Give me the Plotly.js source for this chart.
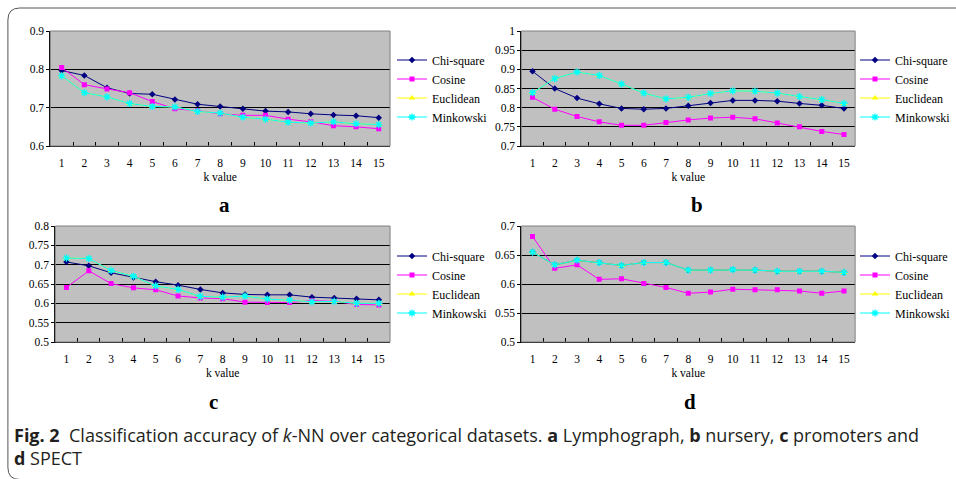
<!DOCTYPE html>
<html>
<head>
<meta charset="utf-8">
<script src="https://cdn.plot.ly/plotly-3.0.1.min.js"></script>
<style>html,body{margin:0;padding:0;background:#fff;}#chart{width:956px;height:479px;}</style>
</head>
<body>
<div id="chart"></div>
<script>
// ---- data ----
const kValues = ['1','2','3','4','5','6','7','8','9','10','11','12','13','14','15'];
const seriesNames = ['Chi-square','Cosine','Euclidean','Minkowski'];

// (a) Lymphograph
const aChi = [0.797,0.784,0.752,0.737,0.735,0.721,0.709,0.703,0.697,0.691,0.689,0.684,0.681,0.679,0.674];
const aCos = [0.805,0.760,0.749,0.739,0.716,0.697,0.692,0.684,0.680,0.680,0.670,0.663,0.653,0.650,0.645];
const aEuc = [0.783,0.739,0.728,0.711,0.703,0.702,0.690,0.686,0.675,0.670,0.662,0.660,0.663,0.658,0.656];
const aMin = [0.783,0.739,0.728,0.711,0.703,0.702,0.690,0.686,0.675,0.670,0.662,0.660,0.663,0.658,0.656];

// (b) nursery
const bChi = [0.895,0.850,0.825,0.810,0.798,0.796,0.798,0.805,0.812,0.819,0.819,0.817,0.811,0.806,0.798];
const bCos = [0.827,0.796,0.777,0.763,0.754,0.754,0.761,0.768,0.773,0.775,0.771,0.760,0.750,0.738,0.730];
const bEuc = [0.839,0.876,0.893,0.884,0.862,0.838,0.823,0.827,0.837,0.844,0.843,0.838,0.829,0.821,0.811];
const bMin = [0.839,0.876,0.893,0.884,0.862,0.838,0.823,0.827,0.837,0.844,0.843,0.838,0.829,0.821,0.811];

// (c) promoters
const cChi = [0.707,0.697,0.679,0.667,0.656,0.647,0.636,0.627,0.623,0.622,0.622,0.616,0.614,0.612,0.609];
const cCos = [0.641,0.684,0.651,0.640,0.635,0.619,0.614,0.612,0.603,0.602,0.602,0.607,0.605,0.597,0.596];
const cEuc = [0.717,0.716,0.685,0.670,0.645,0.636,0.618,0.616,0.619,0.611,0.608,0.604,0.605,0.600,0.600];
const cMin = [0.717,0.716,0.685,0.670,0.645,0.636,0.618,0.616,0.619,0.611,0.608,0.604,0.605,0.600,0.600];

// (d) SPECT
const dChi = [0.655,0.633,0.641,0.637,0.632,0.637,0.637,0.624,0.624,0.625,0.624,0.622,0.622,0.622,0.620];
const dCos = [0.682,0.627,0.633,0.608,0.609,0.601,0.594,0.584,0.586,0.591,0.590,0.590,0.588,0.584,0.588];
const dEuc = [0.655,0.633,0.641,0.637,0.632,0.637,0.637,0.624,0.624,0.625,0.624,0.622,0.622,0.622,0.620];
const dMin = [0.655,0.633,0.641,0.637,0.632,0.637,0.637,0.624,0.624,0.625,0.624,0.622,0.622,0.622,0.620];

const panelLetters = ['a','b','c','d'];
const axisTitle = 'k value';

// ---- styling ----
const W = 956, H = 479;
const serif = '"Liberation Serif", "Times New Roman", Times, serif';
const styles = [
  {color:'#000080', symbol:'diamond', size:5, lineColor:'#000080', lw:0},
  {color:'#ff00ff', symbol:'square', size:5, lineColor:'#ff00ff', lw:0},
  {color:'#ffff00', symbol:'triangle-up', size:6, lineColor:'#ffff00', lw:0},
  {color:'#00ffff', symbol:'asterisk-open', size:6, lineColor:'#00ffff', lw:1.3}
];

const panels = [
  {data:[aChi,aCos,aEuc,aMin], x:[51,395], y:[31,146], range:[0.6,0.9], dtick:0.1, legend:'legend'},
  {data:[bChi,bCos,bEuc,bMin], x:[528,866], y:[31,146], range:[0.7,1.0], dtick:0.05, legend:'legend2'},
  {data:[cChi,cCos,cEuc,cMin], x:[56,395], y:[226,342], range:[0.5,0.8], dtick:0.05, legend:'legend3'},
  {data:[dChi,dCos,dEuc,dMin], x:[528,866], y:[226,342], range:[0.5,0.7], dtick:0.05, legend:'legend4'}
];

const traces = [];
const layout = {
  width: W, height: H,
  margin: {l:0, r:0, t:0, b:0},
  paper_bgcolor: '#ffffff',
  plot_bgcolor: '#c0c0c0',
  font: {family: serif, size: 11.5, color: '#000'},
  shapes: [], annotations: []
};

const legendPos = [
  {x:397, yc:88.5},
  {x:866, yc:88.5},
  {x:397, yc:284.5},
  {x:866, yc:284.5}
];
const letterPos = [[227,205],[706,205],[216,402],[699,402]];

panels.forEach((p, i) => {
  const n = i + 1;
  const xa = n === 1 ? 'x' : 'x' + n;
  const ya = n === 1 ? 'y' : 'y' + n;
  const xk = n === 1 ? 'xaxis' : 'xaxis' + n;
  const yk = n === 1 ? 'yaxis' : 'yaxis' + n;
  p.data.forEach((vals, s) => {
    const st = styles[s];
    traces.push({
      type: 'scatter', mode: 'lines+markers',
      x: kValues, y: vals, name: seriesNames[s],
      xaxis: xa, yaxis: ya, legend: p.legend,
      line: {color: st.lineColor, width: 1},
      marker: {symbol: st.symbol, size: st.size, color: st.color,
               line: {color: st.color, width: st.lw}},
      hoverinfo: 'x+y+name'
    });
  });
  layout[xk] = {
    domain: [p.x[0]/W, p.x[1]/W], anchor: ya,
    type: 'category', range: [-0.5, 14.5],
    tickson: 'boundaries', ticks: 'inside', ticklen: 4, tickcolor: '#000',
    showline: true, linecolor: '#000', linewidth: 1,
    showgrid: false, zeroline: false, fixedrange: true,
    tickfont: {family: serif, size: 11.5, color: '#000'},
    ticklabelstandoff: 6,
    title: {text: axisTitle, font: {family: serif, size: 11.5, color: '#000'}, standoff: 5},
    automargin: false
  };
  layout[yk] = {
    domain: [1 - p.y[1]/H, 1 - p.y[0]/H], anchor: xa,
    range: p.range, dtick: p.dtick, tick0: 0,
    ticks: 'outside', ticklen: 3, tickcolor: '#000',
    showline: true, linecolor: '#000', linewidth: 1,
    showgrid: true, gridcolor: '#000', gridwidth: 1,
    zeroline: false, fixedrange: true,
    tickfont: {family: serif, size: 11.5, color: '#000'},
    automargin: false
  };
  layout.shapes.push({
    type: 'rect', xref: xa + ' domain', yref: ya + ' domain',
    x0: 0, x1: 1, y0: 0, y1: 1, line: {color: '#808080', width: 1}, layer: 'above'
  });
  const lp = legendPos[i];
  layout[p.legend] = {
    x: lp.x / W, xanchor: 'left', y: 1 - lp.yc / H, yanchor: 'middle',
    bgcolor: 'rgba(0,0,0,0)', borderwidth: 0,
    font: {family: serif, size: 12, color: '#000'},
    itemwidth: 30, tracegroupgap: 0
  };
  layout.annotations.push({
    text: '<b>' + panelLetters[i] + '</b>', xref: 'paper', yref: 'paper',
    x: letterPos[i][0]/W, y: 1 - letterPos[i][1]/H, xanchor: 'center', yanchor: 'middle',
    showarrow: false, font: {family: serif, size: 21, color: '#000'}
  });
});

// caption
layout.annotations.push({
  text: '<b>Fig. 2</b>  Classification accuracy of <i>k</i>-NN over categorical datasets. <b>a</b> Lymphograph, <b>b</b> nursery, <b>c</b> promoters and<br><b>d</b> SPECT',
  xref: 'paper', yref: 'paper', x: 12/W, y: 1 - 421/H, xanchor: 'left', yanchor: 'top',
  align: 'left', showarrow: false,
  font: {family: '"Open Sans", "Noto Sans", sans-serif', size: 18, color: '#231f20'}
});

// outer rounded frame
(function(){
  const x0 = 8/W, yt = 1 - 8/H, yb = 1 - 479.5/H, rx = 12/W, ry = 12/H;
  layout.shapes.push({
    type: 'path', xref: 'paper', yref: 'paper', layer: 'below',
    path: `M 1.02,${yt} L ${x0+rx},${yt} Q ${x0},${yt} ${x0},${yt-ry} L ${x0},${yb+ry} Q ${x0},${yb} ${x0+rx},${yb} L 1.02,${yb}`,
    line: {color: '#555555', width: 1}
  });
})();

Plotly.newPlot('chart', traces, layout, {displayModeBar: false, staticPlot: true});
</script>
</body>
</html>
